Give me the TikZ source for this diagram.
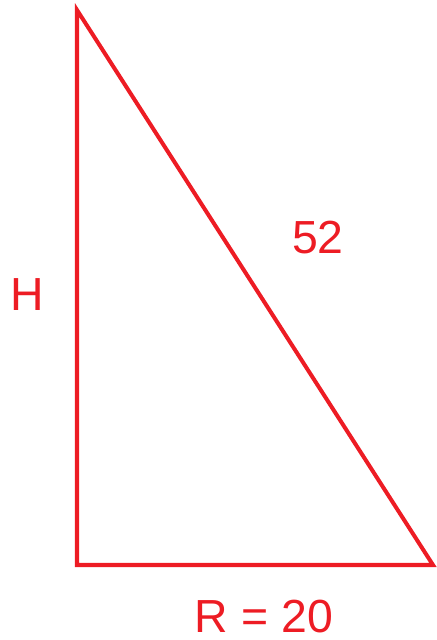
\documentclass[tikz,border=0pt]{standalone}
\usepackage{fontspec}
\setmainfont{Liberation Sans}
\definecolor{paintred}{RGB}{237, 28, 36}
\usepackage{tikz}
\usetikzlibrary{
  positioning,
  calc
}

\begin{document}
\begin{tikzpicture}[
  x=0.025cm, y=0.025cm,
  side/.style={
    draw=paintred, line width=0.1cm,
    line join=miter, line cap=butt
  },
  measure/.style={
    text=paintred, inner sep=0pt,
    font=\fontsize{33}{40}\selectfont
  }
]
\useasboundingbox (0,0) rectangle (436,640);
\coordinate (top)   at (77, 630);
\coordinate (right) at (433, 75);
\coordinate (left)  at (77, 75);
\draw[side] (top) -- (left) -- (right) -- cycle;
\node[measure] (height) at (27.5, 345) {H};
\node[measure] (hyp)    at (318, 402) {52};
\node[measure] (radius) at (264, 23) {R = 20};
\end{tikzpicture}
\end{document}
